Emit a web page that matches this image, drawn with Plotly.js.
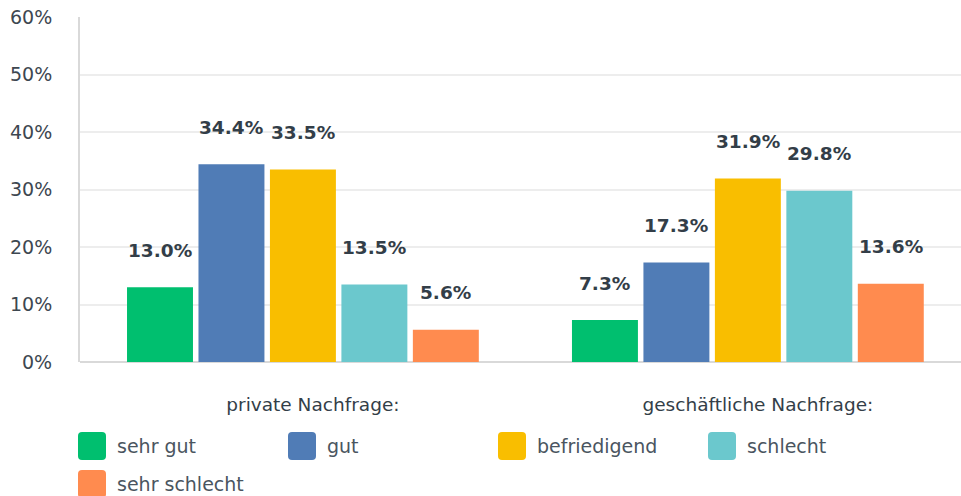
<!DOCTYPE html>
<html><head><meta charset="utf-8">
<script src="https://cdn.plot.ly/plotly-3.0.1.min.js"></script>
<style>html,body{margin:0;padding:0;background:#fff}#chart{width:961px;height:496px}</style>
</head><body><div id="chart"></div>
<script>
const categories = ["private Nachfrage:", "geschäftliche Nachfrage:"];
const seriesNames = ["sehr gut", "gut", "befriedigend", "schlecht", "sehr schlecht"];
const sehrGut = [13.0, 7.3];
const gut = [34.4, 17.3];
const befriedigend = [33.5, 31.9];
const schlecht = [13.5, 29.8];
const sehrSchlecht = [5.6, 13.6];
const yTickVals = [0, 10, 20, 30, 40, 50, 60];
const yTickText = ["0%", "10%", "20%", "30%", "40%", "50%", "60%"];
const colors = ["#00BF6F", "#507CB6", "#F9BE00", "#6BC8CD", "#FF8B4F"];

const series = [sehrGut, gut, befriedigend, schlecht, sehrSchlecht];
const textColor = "#333E48";
const font = "DejaVu Sans, sans-serif";
const bargap = 0.197;
const W = 961, H = 496;
const M = {l: 80, r: 0, t: 17, b: 133.5};

const traces = series.map((vals, i) => ({
  type: "bar", name: seriesNames[i], x: categories, y: vals,
  marker: {color: colors[i]}, showlegend: false, hoverinfo: "skip"
}));

const annotations = [];
const n = series.length;
const slot = (1 - bargap) / n;
series.forEach((vals, i) => {
  vals.forEach((v, j) => {
    annotations.push({
      xref: "x", yref: "y", x: j + (i - (n - 1) / 2) * slot, y: v,
      text: v.toFixed(1) + "%", showarrow: false, yshift: 37,
      font: {family: font, size: 18.5, color: textColor, weight: 700}
    });
  });
});

// manual legend (pixel offsets relative to plot-area top-left)
const shapes = [];
const legX0 = 78, legDx = 210, legY0 = 446, legDy = 38, perRow = 4;
seriesNames.forEach((nm, i) => {
  const col = i % perRow, row = Math.floor(i / perRow);
  const cx = legX0 + col * legDx - M.l, cy = legY0 + row * legDy - M.t;
  const s = 28, r = 4;
  const x0 = cx, x1 = cx + s, y0 = cy - s / 2, y1 = cy + s / 2;
  shapes.push({
    type: "path", xref: "paper", yref: "paper", layer: "above",
    xsizemode: "pixel", ysizemode: "pixel", xanchor: 0, yanchor: 1,
    path: `M ${x0 + r} ${-y0} L ${x1 - r} ${-y0} Q ${x1} ${-y0} ${x1} ${-(y0 + r)} L ${x1} ${-(y1 - r)} Q ${x1} ${-y1} ${x1 - r} ${-y1} L ${x0 + r} ${-y1} Q ${x0} ${-y1} ${x0} ${-(y1 - r)} L ${x0} ${-(y0 + r)} Q ${x0} ${-y0} ${x0 + r} ${-y0} Z`,
    fillcolor: colors[i], line: {width: 0}
  });
  annotations.push({
    xref: "paper", yref: "paper", x: 0, y: 1, xanchor: "left", yanchor: "middle",
    xshift: cx + 37, yshift: -cy, text: nm, showarrow: false,
    font: {family: font, size: 19, color: "#4A5560"}
  });
});

const layout = {
  width: W, height: H, margin: M,
  paper_bgcolor: "#fff", plot_bgcolor: "#fff",
  barmode: "group", bargap: bargap, bargroupgap: 0.077,
  showlegend: false,
  xaxis: {
    type: "category", range: [-0.501, 1.479], showgrid: false, zeroline: false,
    showline: false, ticks: "", ticklabelstandoff: 29, ticklabelshift: 10,
    tickfont: {family: font, size: 18.5, color: textColor}, fixedrange: true
  },
  yaxis: {
    range: [0, 60], tickvals: yTickVals, ticktext: yTickText,
    showgrid: true, gridcolor: "#EDEDED", gridwidth: 2,
    zeroline: true, zerolinecolor: "#D9D9D9", zerolinewidth: 2,
    showline: true, linecolor: "#D9D9D9", linewidth: 2,
    ticks: "", ticklabelstandoff: 22,
    tickfont: {family: font, size: 19, color: "#3D4750"}, fixedrange: true
  },
  annotations: annotations, shapes: shapes
};

Plotly.newPlot("chart", traces, layout, {displayModeBar: false, staticPlot: true});
</script></body></html>
